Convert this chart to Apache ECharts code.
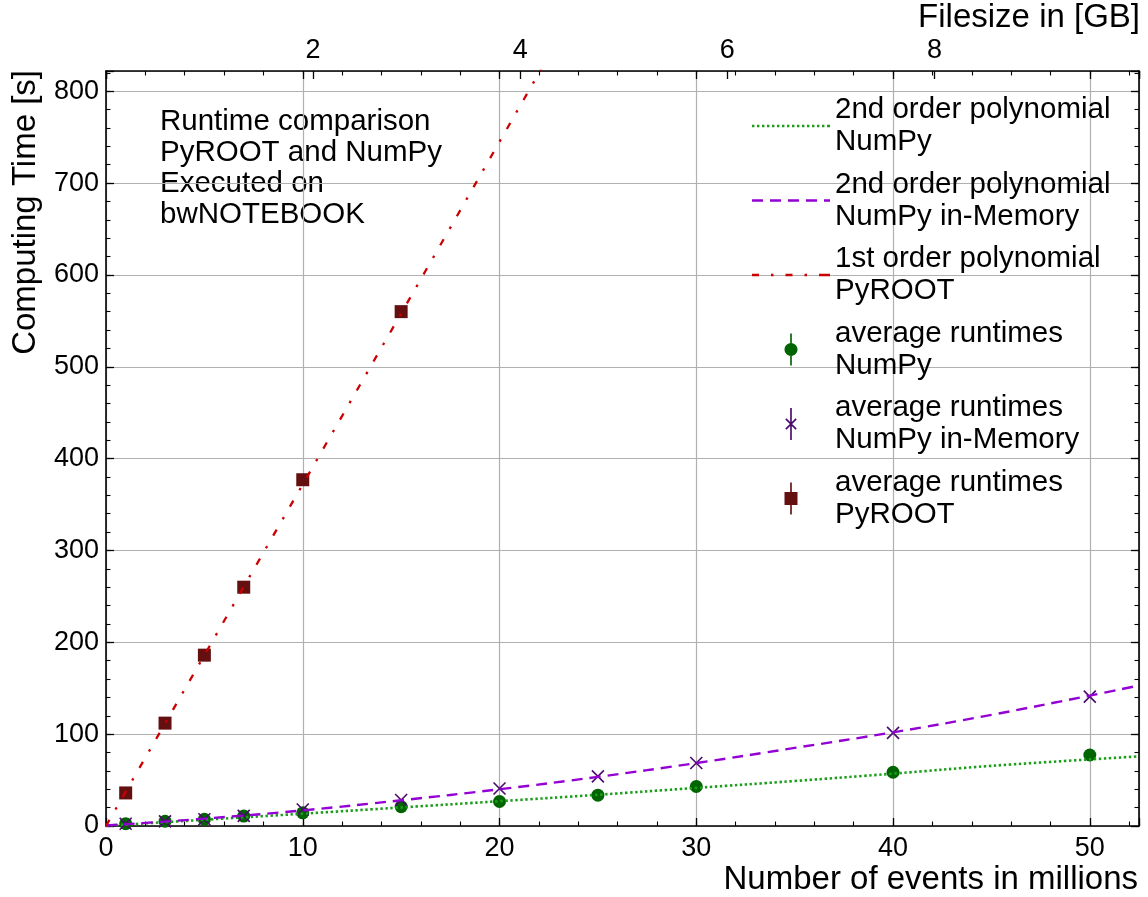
<!DOCTYPE html>
<html>
<head>
<meta charset="utf-8">
<script src="https://cdn.jsdelivr.net/npm/echarts@6/dist/echarts.min.js"></script>
<style>
  html, body { margin: 0; padding: 0; background: #fff; }
  #chart { width: 1148px; height: 897px; }
</style>
</head>
<body>
<div id="chart"></div>
<script>
// Average runtimes in seconds, x = number of events in millions
const eventsNumPy = [1, 3, 5, 7, 10, 15, 20, 25, 30, 40, 50];
const timeNumPy   = [2.5, 5.2, 7.3, 10.8, 14.3, 21, 26.7, 33.6, 43, 58.5, 77.3];

const eventsMem = [1, 3, 5, 7, 10, 15, 20, 25, 30, 40, 50];
const timeMem   = [2.5, 5, 7.3, 11, 18, 28.3, 40.8, 54, 68.6, 101.4, 140.8];

const eventsRoot = [1, 3, 5, 7, 10, 15];
const timeRoot   = [36, 112, 186, 260, 377, 560];

// Fitted curves, sampled along the event axis
const fitXNumPy = [0, 5, 10, 15, 20, 25, 30, 35, 40, 45, 52.5];
const fitNumPy  = [0.3, 6.8, 13.4, 20.2, 27, 34, 41.5, 49, 57, 65.5, 75.8];

const fitXMem = [0, 5, 10, 15, 20, 25, 30, 35, 40, 45, 50, 52.5];
const fitMem  = [0.5, 8, 17, 28, 40, 53.5, 68.5, 85, 102, 121, 142, 153];

const fitXRoot = [0, 5, 10, 15, 20, 23];
const fitRoot  = [0, 186, 372, 558, 745, 857];

// Labels and tick labels
const seriesNames = [
  '2nd order polynomial\nNumPy',
  '2nd order polynomial\nNumPy in-Memory',
  '1st order polynomial\nPyROOT',
  'average runtimes\nNumPy',
  'average runtimes\nNumPy in-Memory',
  'average runtimes\nPyROOT'
];
const infoLines = ['Runtime comparison', 'PyROOT and NumPy', 'Executed on', 'bwNOTEBOOK'];
const xTitle = 'Number of events in millions';
const yTitle = 'Computing Time [s]';
const topTitle = 'Filesize in [GB]';
const xTickLabels = [0, 10, 20, 30, 40, 50];
const yTickLabels = [0, 100, 200, 300, 400, 500, 600, 700, 800];
const gbTickLabels = [2, 4, 6, 8];

// Axis ranges
const X_MAX = 52.5;
const Y_MAX = 822;
const GB_PER_MILLION = 0.19;

const FONT = '"Liberation Sans", Arial, Helvetica, sans-serif';
const pairs = (xs, ys) => xs.map((x, i) => [x, ys[i]]);
const inList = (list) => (v) => list.some(t => Math.abs(t - v) < 1e-6) ? String(Math.round(v)) : '';

// Line styles shared by the curves and their legend handles
const styleNumPy = { color: '#1a9e1a', width: 2.6, dash: [2.4, 2.6] };
const styleMem   = { color: '#9400d3', width: 2.4, dash: [11, 7] };
const styleRoot  = { color: '#cc0000', width: 2.3, dash: [7, 12, 2.5, 12] };

// Legend handle: a dashed horizontal stroke, built from filled pieces
const HANDLE_W = 78;
function dashHandle(dash, h) {
  let s = '', x = 0, i = 0;
  const pieces = [];
  while (x < HANDLE_W) {
    const len = dash[i % dash.length];
    if (i % 2 === 0) pieces.push([x, Math.min(x + len, HANDLE_W)]);
    x += len; i++;
  }
  pieces[pieces.length - 1][1] = HANDLE_W;
  pieces.forEach(([a, b]) => {
    s += 'M' + a + ',0L' + b + ',0L' + b + ',' + h + 'L' + a + ',' + h + 'Z';
  });
  return 'path://' + s;
}

// Legend handle: marker with a vertical error bar
function polyCircle(cx, cy, r, n) {
  let s = '';
  for (let i = 0; i < n; i++) {
    const a = i / n * 2 * Math.PI;
    s += (i ? 'L' : 'M') + (cx + r * Math.cos(a)).toFixed(3) + ',' + (cy + r * Math.sin(a)).toFixed(3);
  }
  return s + 'Z';
}
const barTop = 'M-0.8,0L0.8,0L0.8,9.5L-0.8,9.5Z';
const barBottom = 'M-0.8,21.5L0.8,21.5L0.8,31L-0.8,31Z';
const iconCircle = 'path://' + barTop + barBottom + polyCircle(0, 15.5, 6.3, 28);
const iconSquare = 'path://' + barTop + barBottom + 'M-6.3,9.2L6.3,9.2L6.3,21.8L-6.3,21.8Z';
const iconCross = 'path://M-0.8,0L0.8,0L0.8,31L-0.8,31Z' +
  'M-4.434,9.934L5.566,19.934L4.434,21.066L-5.566,11.066Z' +
  'M5.566,11.066L-4.434,21.066L-5.566,19.934L4.434,9.934Z';

const black = '#000';
const spine = { show: true, onZero: false, lineStyle: { color: black, width: 1.6 } };
const noLine = { show: false, onZero: false };
const majorTick = { show: true, inside: true, length: 8, lineStyle: { color: black, width: 1.3 } };
const minorTickStyle = { show: true, inside: true, length: 4.5, lineStyle: { color: black, width: 1.1 } };
const gridLine = { show: true, lineStyle: { color: '#b0b0b0', width: 1.2 } };
const tickFont = { fontSize: 27, fontFamily: FONT, color: black };

const chart = echarts.init(document.getElementById('chart'), null, { renderer: 'canvas' });

chart.setOption({
  animation: false,
  backgroundColor: '#fff',
  grid: { left: 106, top: 71, width: 1033, height: 755, containLabel: false, outerBoundsMode: 'none' },
  xAxis: [
    { type: 'value', position: 'bottom', min: 0, max: X_MAX, interval: 10,
      axisLine: spine, axisTick: majorTick, splitLine: gridLine,
      axisLabel: Object.assign({ margin: 9, formatter: inList(xTickLabels) }, tickFont) },
    { type: 'value', position: 'bottom', min: 0, max: X_MAX, interval: 2,
      axisLine: noLine, axisTick: minorTickStyle, splitLine: { show: false }, axisLabel: { show: false } },
    { type: 'value', position: 'top', min: 0, max: X_MAX, interval: 10,
      axisLine: spine, axisTick: majorTick, splitLine: { show: false }, axisLabel: { show: false } },
    { type: 'value', position: 'top', min: 0, max: X_MAX, interval: 2,
      axisLine: noLine, axisTick: minorTickStyle, splitLine: { show: false }, axisLabel: { show: false } },
    { type: 'value', position: 'top', min: 0, max: X_MAX * GB_PER_MILLION, interval: 2,
      axisLine: noLine, axisTick: majorTick, splitLine: { show: false },
      axisLabel: Object.assign({ margin: 7, formatter: inList(gbTickLabels) }, tickFont) }
  ],
  yAxis: [
    { type: 'value', position: 'left', min: 0, max: Y_MAX, interval: 100,
      axisLine: spine, axisTick: majorTick, splitLine: gridLine,
      axisLabel: Object.assign({ margin: 7, formatter: inList(yTickLabels) }, tickFont) },
    { type: 'value', position: 'left', min: 0, max: Y_MAX, interval: 20,
      axisLine: noLine, axisTick: minorTickStyle, splitLine: { show: false }, axisLabel: { show: false } },
    { type: 'value', position: 'right', min: 0, max: Y_MAX, interval: 100,
      axisLine: spine, axisTick: majorTick, splitLine: { show: false }, axisLabel: { show: false } },
    { type: 'value', position: 'right', min: 0, max: Y_MAX, interval: 20,
      axisLine: noLine, axisTick: minorTickStyle, splitLine: { show: false }, axisLabel: { show: false } }
  ],
  legend: {
    orient: 'vertical', left: 747, top: 89,
    itemWidth: HANDLE_W, itemHeight: 32, itemGap: 10.5,
    selectedMode: false,
    itemStyle: { borderWidth: 0 },
    textStyle: { fontSize: 29.5, lineHeight: 32, fontFamily: FONT, color: black },
    data: [
      { name: seriesNames[0], icon: dashHandle(styleNumPy.dash, styleNumPy.width) },
      { name: seriesNames[1], icon: dashHandle(styleMem.dash, styleMem.width) },
      { name: seriesNames[2], icon: dashHandle(styleRoot.dash, styleRoot.width) },
      { name: seriesNames[3], icon: iconCircle },
      { name: seriesNames[4], icon: iconCross },
      { name: seriesNames[5], icon: iconSquare }
    ]
  },
  series: [
    { type: 'line', name: seriesNames[0], data: pairs(fitXNumPy, fitNumPy),
      symbol: 'none', smooth: 0.4, silent: true,
      itemStyle: { color: styleNumPy.color },
      lineStyle: { color: styleNumPy.color, width: styleNumPy.width, type: styleNumPy.dash } },
    { type: 'line', name: seriesNames[1], data: pairs(fitXMem, fitMem),
      symbol: 'none', smooth: 0.4, silent: true,
      itemStyle: { color: styleMem.color },
      lineStyle: { color: styleMem.color, width: styleMem.width, type: styleMem.dash } },
    { type: 'line', name: seriesNames[2], data: pairs(fitXRoot, fitRoot),
      symbol: 'none', silent: true,
      itemStyle: { color: styleRoot.color },
      lineStyle: { color: styleRoot.color, width: styleRoot.width, type: styleRoot.dash } },
    { type: 'scatter', name: seriesNames[3], data: pairs(eventsNumPy, timeNumPy),
      symbol: 'circle', symbolSize: 13, silent: true,
      itemStyle: { color: '#006400', opacity: 1 } },
    { type: 'scatter', name: seriesNames[4], data: pairs(eventsMem, timeMem),
      symbol: 'path://M0,0L10,10M10,0L0,10', symbolSize: 12, silent: true,
      itemStyle: { color: '#4b0a6e', borderColor: '#4b0a6e', borderWidth: 1.6, opacity: 1 } },
    { type: 'scatter', name: seriesNames[5], data: pairs(eventsRoot, timeRoot),
      symbol: 'rect', symbolSize: 13, silent: true,
      itemStyle: { color: '#651010', opacity: 1 } }
  ],
  graphic: [
    { type: 'text', x: 160, y: 106, silent: true,
      style: { text: infoLines.join('\n'), fontSize: 29.5, lineHeight: 31, fontFamily: FONT, fill: black } },
    { type: 'text', x: 1140, y: 18, silent: true,
      style: { text: topTitle, fontSize: 33, fontFamily: FONT, fill: black, align: 'right', verticalAlign: 'middle' } },
    { type: 'text', x: 1138, y: 880, silent: true,
      style: { text: xTitle, fontSize: 33, fontFamily: FONT, fill: black, align: 'right', verticalAlign: 'middle' } },
    { type: 'text', x: 26, y: 70, rotation: Math.PI / 2, silent: true,
      style: { text: yTitle, fontSize: 33, fontFamily: FONT, fill: black, align: 'right', verticalAlign: 'middle' } }
  ]
});
</script>
</body>
</html>
